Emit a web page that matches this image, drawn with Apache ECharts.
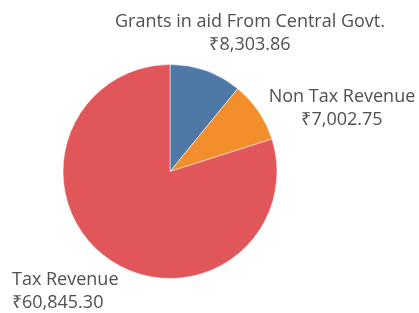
<!DOCTYPE html>
<html>
<head>
<meta charset="utf-8">
<script src="https://cdn.jsdelivr.net/npm/echarts@6/dist/echarts.min.js"></script>
<style>
  html, body { margin: 0; padding: 0; background: #fff; }
  #chart { width: 419px; height: 313px; }
</style>
</head>
<body>
<div id="chart"></div>
<script>
// revenue breakdown
var names = ['Grants in aid From Central Govt.', 'Non Tax Revenue', 'Tax Revenue'];
var values = [8303.86, 7002.75, 60845.30];
var colors = ['#4e79a7', '#f28e2b', '#e15759'];

// where each label sits (x, y, align)
var labelPos = [
    [250, 33, 'center'],
    [342, 108, 'center'],
    [12, 291, 'left']
];

var myPie = echarts.init(document.getElementById('chart'));

var data = [];
for (var i = 0; i < names.length; i++) {
    data.push({ name: names[i], value: values[i], itemStyle: { color: colors[i] } });
}

function money(v) {
    return '₹' + v.toLocaleString('en-US', { minimumFractionDigits: 2, maximumFractionDigits: 2 });
}

var option = {
    animation: false,
    series: [{
        type: 'pie',
        center: [170, 171.5],
        radius: [0, 107],
        startAngle: 90,
        clockwise: true,
        data: data,
        itemStyle: {
            borderColor: '#ffffff',
            borderWidth: 0.5
        },
        label: {
            show: true,
            position: 'outside',
            overflow: 'none',
            formatter: function (p) {
                return p.name + '\n' + money(p.value);
            },
            color: '#505050',
            fontFamily: 'Open Sans',
            fontSize: 18,
            lineHeight: 23
        },
        labelLine: { show: false },
        labelLayout: function (params) {
            var pos = labelPos[params.dataIndex];
            return {
                x: pos[0],
                y: pos[1],
                align: pos[2],
                verticalAlign: 'middle'
            };
        }
    }]
};

myPie.setOption(option);
</script>
</body>
</html>
